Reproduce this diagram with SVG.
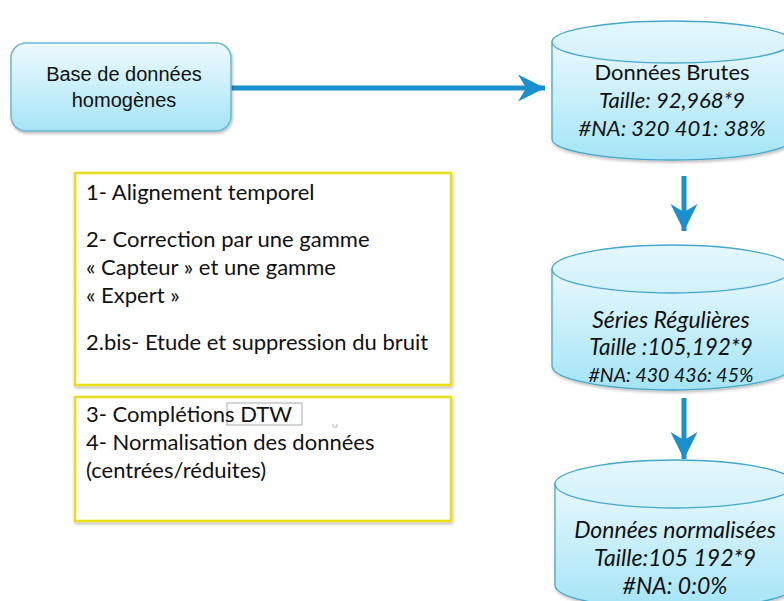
<svg xmlns="http://www.w3.org/2000/svg" width="784" height="601" viewBox="0 0 784 601">
<defs>
<linearGradient id="gBox" x1="0" y1="0" x2="0" y2="1">
<stop offset="0" stop-color="#eefafe"/>
<stop offset="1" stop-color="#a6e4f6"/>
</linearGradient>
<linearGradient id="gCyl" x1="0" y1="0" x2="0" y2="1">
<stop offset="0" stop-color="#e8f8fd"/>
<stop offset="1" stop-color="#a4e4f6"/>
</linearGradient>
<linearGradient id="gTop" x1="0" y1="0" x2="0" y2="1">
<stop offset="0" stop-color="#e4f7fd"/>
<stop offset="1" stop-color="#d2f1fb"/>
</linearGradient>
<filter id="sh" x="-10%" y="-10%" width="120%" height="130%">
<feDropShadow dx="1" dy="2" stdDeviation="1.5" flood-color="#000" flood-opacity="0.25"/>
</filter>
<marker id="ahBlue" viewBox="0 0 10 10" refX="10" refY="5" markerWidth="5.4" markerHeight="5.4" orient="auto" markerUnits="strokeWidth">
<path d="M0,0 L10,5 L0,10 L3,5 Z" fill="#1b8fcd"/>
</marker>
<marker id="ahYel" viewBox="0 0 10 10" refX="10" refY="5" markerWidth="4.2" markerHeight="4.2" orient="auto" markerUnits="strokeWidth">
<path d="M0,0 L10,5 L0,10 Z" fill="#ede41c"/>
</marker>
<style>
.cyl{fill:url(#gCyl);stroke:#45a7c9;stroke-width:1.3}
.top{fill:url(#gTop);stroke:#45a7c9;stroke-width:1.3}
.t{font-family:Lato,"Liberation Sans",sans-serif;fill:#111}
.a{font-family:"Liberation Sans",sans-serif;fill:#111}
.c{text-anchor:middle}
.i{font-style:italic}
.ybox{fill:#fff;stroke:#e9dd1d;stroke-width:2.6}
.blue{stroke:#1b8fcd;stroke-width:5;fill:none}
.yel{stroke:#ede41c;stroke-width:4;fill:none}
</style>
</defs>
<rect width="784" height="601" fill="#fff"/>

<g id="connectors">
<line class="blue" x1="231" y1="88" x2="545" y2="88" marker-end="url(#ahBlue)"/>
<line class="blue" x1="684" y1="176" x2="684" y2="231" marker-end="url(#ahBlue)"/>
<line class="blue" x1="684" y1="398" x2="684" y2="459" marker-end="url(#ahBlue)"/>
<line class="yel" x1="447" y1="196" x2="653" y2="196" marker-end="url(#ahYel)" filter="url(#sh)"/>
<line class="yel" x1="451" y1="420" x2="653" y2="420" marker-end="url(#ahYel)" filter="url(#sh)"/>
</g>

<g id="base">
<rect x="11" y="43" width="220" height="88" rx="15" fill="url(#gBox)" stroke="#6ab8d2" stroke-width="1.5" filter="url(#sh)"/>
<text class="a c" x="124" y="81" font-size="20">Base de données</text>
<text class="a c" x="124" y="107" font-size="20">homogènes</text>
</g>

<g id="brutes">
<path class="cyl" filter="url(#sh)" d="M552,42 L552,139 A120,21 0 0 0 792,139 L792,42 Z"/>
<ellipse class="top" cx="672" cy="42" rx="120" ry="21"/>
<text class="t c" x="672" y="80" font-size="22">Données Brutes</text>
<text class="t c i" x="672" y="108" font-size="22">Taille: 92,968*9</text>
<text class="t c i" x="672" y="136" font-size="22">#NA: 320 401: 38%</text>
</g>

<g id="series">
<path class="cyl" filter="url(#sh)" d="M552,269 L552,366 A120,24 0 0 0 792,366 L792,269 Z"/>
<ellipse class="top" cx="672" cy="269" rx="120" ry="24"/>
<text class="t c i" x="671" y="328" font-size="23">Séries Régulières</text>
<text class="t c i" x="671" y="355" font-size="22.5">Taille :105,192*9</text>
<text class="t c i" x="671" y="382" font-size="19.5">#NA: 430 436: 45%</text>
</g>

<g id="normalisees">
<path class="cyl" filter="url(#sh)" d="M555,484 L555,585 A120,24 0 0 0 795,585 L795,484 Z"/>
<ellipse class="top" cx="675" cy="484" rx="120" ry="24"/>
<text class="t c i" x="675" y="538" font-size="23">Données normalisées</text>
<text class="t c i" x="675" y="566" font-size="23">Taille:105 192*9</text>
<text class="t c i" x="675" y="594" font-size="23">#NA: 0:0%</text>
</g>

<g id="etapes1">
<rect class="ybox" x="75" y="173" width="376" height="212" filter="url(#sh)"/>
<text class="t" x="86" y="200" font-size="22">1- Alignement temporel</text>
<text class="t" x="86" y="247" font-size="22">2- Correction par une gamme</text>
<text class="t" x="86" y="275" font-size="22">« Capteur » et une gamme</text>
<text class="t" x="86" y="303" font-size="22">« Expert »</text>
<text class="t" x="86" y="350" font-size="22">2.bis- Etude et suppression du bruit</text>
</g>

<g id="etapes2">
<rect class="ybox" x="75" y="397" width="376" height="124" filter="url(#sh)"/>
<rect x="227" y="403" width="75" height="22" fill="none" stroke="#aaa" stroke-width="1"/>
<path d="M333,424 L333,427 L337,427 L337,424" fill="none" stroke="#aaa" stroke-width="0.8"/>
<text class="t" x="86" y="422" font-size="22">3- Complétions DTW</text>
<text class="t" x="86" y="450" font-size="22">4- Normalisation des données</text>
<text class="t" x="86" y="478" font-size="22">(centrées/réduites)</text>
</g>
</svg>
